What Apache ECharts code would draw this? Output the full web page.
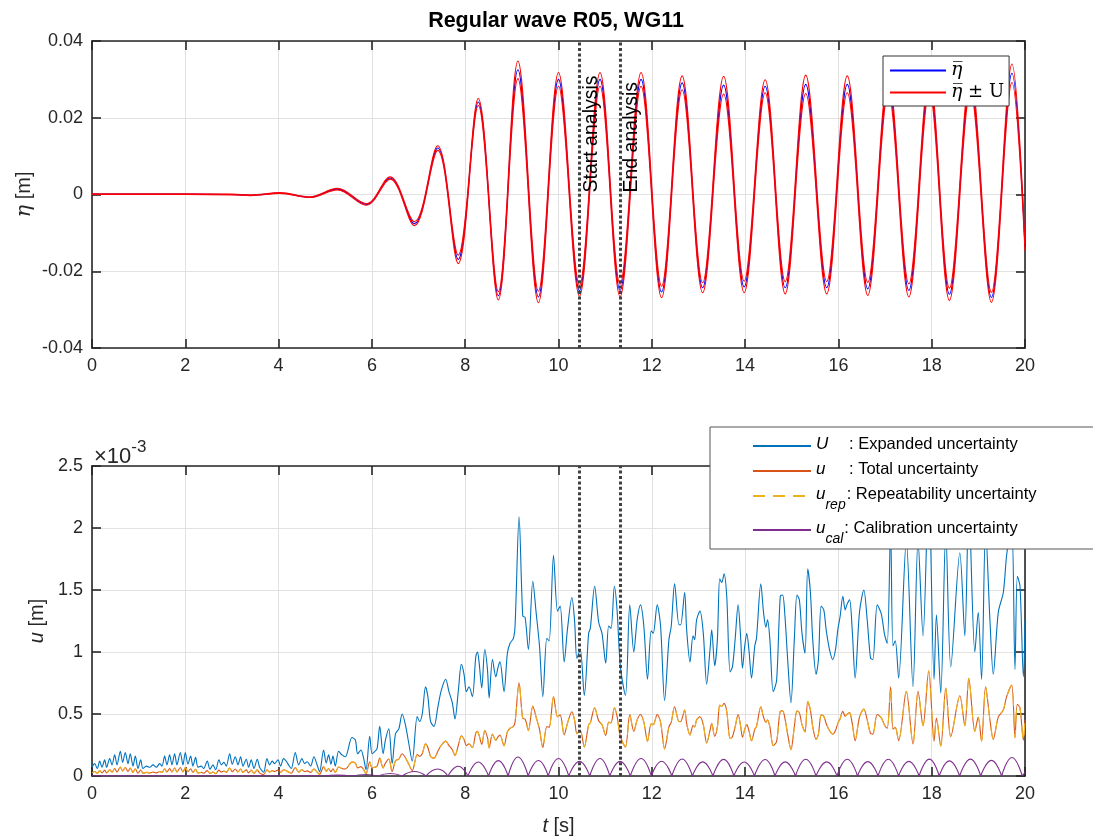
<!DOCTYPE html>
<html>
<head>
<meta charset="utf-8">
<title>Regular wave R05, WG11</title>
<script src="https://cdn.jsdelivr.net/npm/echarts@6/dist/echarts.min.js"></script>
<style>
  html, body { margin: 0; padding: 0; background: #ffffff; }
  #chart { width: 1093px; height: 838px; }
</style>
</head>
<body>
<div id="chart"></div>
<script>
// ---------------------------------------------------------------------------
// Surface elevation at WG11: crest / trough instants (s) and elevation (m)
// ---------------------------------------------------------------------------
const etaTime = [0, 1, 2, 3, 3.4, 4.03, 4.67, 5.26, 5.88, 6.39,
  6.91, 7.41, 7.85, 8.28, 8.71, 9.13, 9.57, 10.0, 10.45, 10.89,
  11.32, 11.77, 12.21, 12.65, 13.09, 13.54, 13.98, 14.43, 14.86, 15.30,
  15.75, 16.19, 16.63, 17.07, 17.51, 17.95, 18.38, 18.83, 19.28, 19.72,
  20.0];
const etaMean = [0.0001, 0.0001, 0.0001, 0.0000, -0.0002, 0.0004, -0.0007, 0.0014, -0.0026, 0.0043,
  -0.0076, 0.0121, -0.0169, 0.0241, -0.0264, 0.0325, -0.0267, 0.0300, -0.0251, 0.0300,
  -0.0250, 0.0300, -0.0254, 0.0291, -0.0243, 0.0285, -0.0241, 0.0282, -0.0243, 0.0287,
  -0.0243, 0.0287, -0.0246, 0.0288, -0.0250, 0.0290, -0.0260, 0.0290, -0.0268, 0.0316,
  -0.0137];
// expanded uncertainty U at the same instants (m)
const etaExpanded = [0.0001, 0.0001, 0.0001, 0.0001, 0.0001, 0.0001, 0.0001, 0.0002, 0.0002, 0.0003,
  0.0005, 0.0006, 0.0011, 0.0009, 0.0011, 0.0023, 0.0015, 0.0018, 0.0014, 0.0018,
  0.0016, 0.0018, 0.0015, 0.0018, 0.0013, 0.0023, 0.0015, 0.0017, 0.0016, 0.0024,
  0.0016, 0.0022, 0.0017, 0.0020, 0.0017, 0.0020, 0.0016, 0.0020, 0.0013, 0.0024,
  0.0010];

// ---------------------------------------------------------------------------
// Uncertainty time history, values in units of 1e-3 m
// ---------------------------------------------------------------------------
const uncTime = [
  0.00, 0.057, 0.114, 0.164, 0.214, 0.271, 0.314, 0.379, 0.429, 0.486,
  0.536, 0.607, 0.657, 0.714, 0.771, 0.821, 0.879, 0.929, 0.986, 1.043,
  1.093, 1.164, 1.236, 1.307, 1.379, 1.45, 1.50, 1.557, 1.607, 1.664,
  1.714, 1.771, 1.821, 1.893, 1.95, 2.00, 2.057, 2.114, 2.164, 2.221,
  2.271, 2.343, 2.393, 2.471, 2.529, 2.593, 2.65, 2.721, 2.771, 2.829,
  2.879, 2.95, 3.007, 3.071, 3.129, 3.186, 3.236, 3.307, 3.357, 3.414,
  3.471, 3.543, 3.593, 3.679, 3.75, 3.807, 3.864, 3.914, 3.986, 4.043,
  4.107, 4.164, 4.214, 4.271, 4.357, 4.429, 4.50, 4.557, 4.614, 4.686,
  4.757, 4.821, 4.879, 4.964, 5.021, 5.072, 5.122, 5.165, 5.215, 5.287,
  5.358, 5.43, 5.573, 5.645, 5.695, 5.767, 5.824, 5.874, 5.953, 6.004,
  6.054, 6.111, 6.168, 6.24, 6.29, 6.362, 6.434, 6.505, 6.577, 6.649,
  6.72, 6.792, 6.864, 6.971, 7.021, 7.079, 7.15, 7.2, 7.258, 7.33,
  7.416, 7.487, 7.581, 7.652, 7.724, 7.781, 7.853, 7.918, 7.975, 8.025,
  8.082, 8.154, 8.226, 8.262, 8.297, 8.355, 8.419, 8.477, 8.513, 8.584,
  8.656, 8.706, 8.746, 8.832, 8.904, 8.961, 9.033, 9.069, 9.155, 9.234,
  9.284, 9.355, 9.449, 9.520, 9.592, 9.664, 9.750, 9.800, 9.893, 9.979,
  10.036, 10.122, 10.194, 10.287, 10.345, 10.395, 10.466, 10.553, 10.646, 10.682,
  10.775, 10.861, 10.933, 11.012, 11.076, 11.126, 11.198, 11.255, 11.327, 11.435,
  11.528, 11.614, 11.686, 11.757, 11.829, 11.908, 11.987, 12.030, 12.116, 12.188,
  12.274, 12.367, 12.417, 12.489, 12.582, 12.618, 12.704, 12.747, 12.819, 12.883,
  12.919, 12.961, 13.033, 13.104, 13.176, 13.248, 13.284, 13.348, 13.406, 13.456,
  13.499, 13.549, 13.606, 13.678, 13.728, 13.786, 13.850, 13.907, 13.943, 13.993,
  14.036, 14.086, 14.137, 14.208, 14.244, 14.337, 14.395, 14.445, 14.481, 14.531,
  14.603, 14.675, 14.754, 14.804, 14.854, 14.912, 14.983, 15.055, 15.112, 15.163,
  15.220, 15.285, 15.342, 15.400, 15.450, 15.522, 15.572, 15.630, 15.687, 15.737,
  15.809, 15.880, 15.938, 15.988, 16.038, 16.095, 16.146, 16.181, 16.239, 16.296,
  16.359, 16.452, 16.545, 16.617, 16.689, 16.739, 16.832, 16.918, 16.990, 17.047,
  17.119, 17.169, 17.219, 17.291, 17.456, 17.599, 17.707, 17.814, 17.936, 18.051,
  18.101, 18.194, 18.302, 18.409, 18.603, 18.710, 18.796, 18.925, 18.997, 19.069,
  19.155, 19.248, 19.320, 19.427, 19.535, 19.606, 19.714, 19.785, 19.836, 19.893,
  19.965, 20.0];

// U : expanded uncertainty
const expandedU = [
  0.07, 0.10, 0.06, 0.12, 0.07, 0.13, 0.07, 0.14, 0.09, 0.17,
  0.09, 0.20, 0.11, 0.19, 0.10, 0.18, 0.08, 0.16, 0.06, 0.13,
  0.06, 0.08, 0.07, 0.09, 0.07, 0.10, 0.08, 0.16, 0.09, 0.17,
  0.09, 0.18, 0.09, 0.19, 0.09, 0.19, 0.095, 0.16, 0.08, 0.15,
  0.07, 0.08, 0.06, 0.12, 0.055, 0.09, 0.05, 0.13, 0.09, 0.11,
  0.08, 0.18, 0.095, 0.155, 0.09, 0.155, 0.08, 0.135, 0.07, 0.13,
  0.06, 0.135, 0.07, 0.03, 0.14, 0.09, 0.12, 0.10, 0.13, 0.08,
  0.14, 0.12, 0.09, 0.06, 0.19, 0.09, 0.14, 0.10, 0.115, 0.08,
  0.155, 0.095, 0.035, 0.21, 0.105, 0.17, 0.095, 0.16, 0.08, 0.20,
  0.17, 0.155, 0.31, 0.29, 0.18, 0.21, 0.14, 0.05, 0.32, 0.18,
  0.195, 0.22, 0.40, 0.18, 0.29, 0.38, 0.10, 0.34, 0.38, 0.50,
  0.41, 0.26, 0.12, 0.48, 0.44, 0.50, 0.72, 0.64, 0.44, 0.40,
  0.56, 0.69, 0.78, 0.68, 0.59, 0.46, 0.69, 0.90, 0.82, 0.68,
  0.72, 0.64, 0.96, 1.00, 0.92, 0.71, 1.02, 0.86, 0.63, 0.94,
  0.80, 0.88, 0.92, 0.68, 0.99, 1.07, 1.11, 1.21, 2.09, 1.29,
  1.28, 1.02, 1.57, 1.32, 1.05, 0.64, 1.11, 1.09, 1.78, 1.33,
  1.37, 0.92, 1.19, 1.44, 1.25, 0.95, 1.02, 0.65, 1.15, 1.19,
  1.53, 1.24, 1.15, 0.91, 1.21, 1.19, 1.53, 1.34, 0.88, 0.65,
  1.38, 1.00, 1.26, 1.38, 1.21, 0.78, 1.17, 1.15, 1.38, 1.21,
  0.61, 1.10, 1.21, 1.55, 1.22, 1.22, 1.48, 1.18, 0.92, 1.13,
  1.10, 1.26, 1.33, 1.15, 0.74, 1.02, 1.18, 0.89, 1.10, 1.59,
  1.56, 1.63, 1.45, 0.84, 0.88, 1.10, 1.38, 1.10, 0.87, 1.05,
  1.15, 1.00, 0.79, 1.05, 1.11, 1.55, 1.32, 1.20, 1.26, 1.10,
  0.68, 0.77, 1.45, 1.46, 1.29, 0.94, 0.59, 1.10, 1.46, 1.42,
  1.15, 0.99, 1.67, 1.48, 1.10, 0.82, 0.94, 1.37, 1.34, 1.18,
  1.02, 0.94, 1.02, 1.18, 1.29, 1.45, 1.34, 1.38, 1.42, 1.18,
  0.79, 1.32, 1.50, 1.26, 0.95, 0.94, 1.38, 1.31, 1.14, 1.07,
  2.00, 1.05, 1.09, 0.79, 1.90, 0.72, 1.90, 1.13, 2.36, 0.78,
  1.30, 0.67, 1.97, 0.88, 1.80, 1.13, 2.19, 1.00, 1.32, 0.78,
  2.00, 1.26, 0.82, 1.32, 1.48, 1.78, 2.04, 0.86, 1.61, 1.53,
  0.80, 1.26];

// u : total uncertainty
const totalU = [
  0.025, 0.036, 0.022, 0.043, 0.025, 0.047, 0.025, 0.050, 0.032, 0.061,
  0.032, 0.072, 0.040, 0.068, 0.036, 0.065, 0.029, 0.058, 0.022, 0.047,
  0.022, 0.029, 0.025, 0.032, 0.025, 0.036, 0.029, 0.058, 0.032, 0.061,
  0.032, 0.065, 0.032, 0.068, 0.032, 0.068, 0.034, 0.058, 0.029, 0.054,
  0.025, 0.029, 0.022, 0.043, 0.020, 0.032, 0.018, 0.047, 0.032, 0.040,
  0.029, 0.065, 0.034, 0.056, 0.032, 0.056, 0.029, 0.049, 0.025, 0.047,
  0.022, 0.049, 0.025, 0.011, 0.050, 0.032, 0.043, 0.036, 0.047, 0.029,
  0.050, 0.043, 0.032, 0.022, 0.068, 0.032, 0.050, 0.036, 0.041, 0.029,
  0.056, 0.034, 0.013, 0.076, 0.038, 0.061, 0.034, 0.058, 0.029, 0.072,
  0.061, 0.056, 0.112, 0.104, 0.065, 0.076, 0.050, 0.018, 0.115, 0.065,
  0.070, 0.079, 0.144, 0.065, 0.104, 0.137, 0.036, 0.122, 0.137, 0.180,
  0.147, 0.094, 0.043, 0.173, 0.158, 0.180, 0.259, 0.230, 0.158, 0.144,
  0.201, 0.248, 0.281, 0.245, 0.212, 0.165, 0.248, 0.324, 0.295, 0.245,
  0.259, 0.230, 0.345, 0.360, 0.331, 0.255, 0.367, 0.309, 0.227, 0.338,
  0.288, 0.317, 0.331, 0.245, 0.356, 0.385, 0.399, 0.435, 0.752, 0.464,
  0.460, 0.367, 0.565, 0.475, 0.378, 0.230, 0.399, 0.392, 0.640, 0.478,
  0.493, 0.331, 0.428, 0.518, 0.450, 0.342, 0.367, 0.234, 0.414, 0.428,
  0.550, 0.446, 0.414, 0.327, 0.435, 0.428, 0.550, 0.482, 0.317, 0.234,
  0.496, 0.360, 0.453, 0.496, 0.435, 0.281, 0.421, 0.414, 0.496, 0.435,
  0.219, 0.396, 0.435, 0.558, 0.439, 0.439, 0.532, 0.424, 0.331, 0.406,
  0.396, 0.453, 0.478, 0.414, 0.266, 0.367, 0.424, 0.320, 0.396, 0.572,
  0.561, 0.586, 0.522, 0.302, 0.317, 0.396, 0.496, 0.396, 0.313, 0.378,
  0.414, 0.360, 0.284, 0.378, 0.399, 0.558, 0.475, 0.432, 0.453, 0.396,
  0.245, 0.277, 0.522, 0.525, 0.464, 0.338, 0.212, 0.396, 0.525, 0.511,
  0.414, 0.356, 0.601, 0.532, 0.396, 0.295, 0.338, 0.493, 0.482, 0.424,
  0.367, 0.338, 0.367, 0.424, 0.464, 0.522, 0.482, 0.496, 0.511, 0.424,
  0.284, 0.475, 0.540, 0.453, 0.342, 0.338, 0.496, 0.471, 0.410, 0.385,
  0.719, 0.378, 0.392, 0.284, 0.683, 0.259, 0.683, 0.406, 0.849, 0.281,
  0.468, 0.241, 0.709, 0.317, 0.647, 0.406, 0.788, 0.360, 0.475, 0.281,
  0.719, 0.453, 0.295, 0.475, 0.532, 0.640, 0.734, 0.309, 0.579, 0.550,
  0.288, 0.453];

// u_rep : repeatability uncertainty
const repeatU = [
  0.025, 0.036, 0.022, 0.043, 0.025, 0.047, 0.025, 0.050, 0.032, 0.061,
  0.032, 0.072, 0.040, 0.068, 0.036, 0.065, 0.029, 0.058, 0.022, 0.047,
  0.022, 0.029, 0.025, 0.032, 0.025, 0.036, 0.029, 0.058, 0.032, 0.061,
  0.032, 0.065, 0.032, 0.068, 0.032, 0.068, 0.034, 0.058, 0.029, 0.054,
  0.025, 0.029, 0.022, 0.043, 0.020, 0.032, 0.018, 0.047, 0.032, 0.040,
  0.029, 0.065, 0.034, 0.056, 0.032, 0.056, 0.029, 0.049, 0.025, 0.047,
  0.022, 0.049, 0.025, 0.011, 0.050, 0.032, 0.043, 0.036, 0.047, 0.029,
  0.050, 0.043, 0.032, 0.022, 0.068, 0.032, 0.050, 0.036, 0.041, 0.029,
  0.056, 0.034, 0.013, 0.076, 0.038, 0.061, 0.034, 0.058, 0.029, 0.072,
  0.061, 0.056, 0.112, 0.104, 0.065, 0.076, 0.050, 0.018, 0.115, 0.065,
  0.070, 0.079, 0.143, 0.065, 0.104, 0.136, 0.036, 0.121, 0.136, 0.179,
  0.146, 0.093, 0.042, 0.172, 0.157, 0.179, 0.258, 0.229, 0.157, 0.143,
  0.200, 0.247, 0.280, 0.244, 0.211, 0.164, 0.247, 0.323, 0.294, 0.244,
  0.258, 0.229, 0.344, 0.359, 0.330, 0.254, 0.366, 0.308, 0.226, 0.337,
  0.287, 0.316, 0.330, 0.244, 0.355, 0.384, 0.398, 0.434, 0.751, 0.463,
  0.459, 0.366, 0.564, 0.474, 0.377, 0.229, 0.398, 0.391, 0.639, 0.477,
  0.492, 0.330, 0.427, 0.517, 0.449, 0.341, 0.366, 0.233, 0.413, 0.427,
  0.549, 0.445, 0.413, 0.326, 0.434, 0.427, 0.549, 0.481, 0.316, 0.233,
  0.495, 0.359, 0.452, 0.495, 0.434, 0.280, 0.420, 0.413, 0.495, 0.434,
  0.218, 0.395, 0.434, 0.557, 0.438, 0.438, 0.531, 0.423, 0.330, 0.405,
  0.395, 0.452, 0.477, 0.413, 0.265, 0.366, 0.423, 0.319, 0.395, 0.571,
  0.560, 0.585, 0.521, 0.301, 0.316, 0.395, 0.495, 0.395, 0.312, 0.377,
  0.413, 0.359, 0.283, 0.377, 0.398, 0.557, 0.474, 0.431, 0.452, 0.395,
  0.244, 0.276, 0.521, 0.524, 0.463, 0.337, 0.211, 0.395, 0.524, 0.510,
  0.413, 0.355, 0.600, 0.531, 0.395, 0.294, 0.337, 0.492, 0.481, 0.423,
  0.366, 0.337, 0.366, 0.423, 0.463, 0.521, 0.481, 0.495, 0.510, 0.423,
  0.283, 0.474, 0.539, 0.452, 0.341, 0.337, 0.495, 0.470, 0.409, 0.384,
  0.718, 0.377, 0.391, 0.283, 0.682, 0.258, 0.682, 0.405, 0.848, 0.280,
  0.467, 0.240, 0.708, 0.316, 0.646, 0.405, 0.787, 0.359, 0.474, 0.280,
  0.718, 0.452, 0.294, 0.474, 0.531, 0.639, 0.733, 0.308, 0.578, 0.549,
  0.287, 0.452];

// u_cal : calibration uncertainty, one arch per half wave (1e-3 m)
const calZeroTime = [3.72, 4.35, 4.97, 5.57, 6.13, 6.65, 7.16, 7.63, 8.06, 8.50,
  8.92, 9.35, 9.78, 10.22, 10.67, 11.10, 11.54, 11.99, 12.43, 12.87,
  13.31, 13.76, 14.20, 14.64, 15.08, 15.52, 15.97, 16.41, 16.85, 17.29,
  17.73, 18.16, 18.60, 19.05, 19.50, 19.94];
const calCrestTime = [4.03, 4.67, 5.26, 5.88, 6.39, 6.91, 7.41, 7.85, 8.28, 8.71,
  9.13, 9.57, 10.0, 10.45, 10.89, 11.32, 11.77, 12.21, 12.65, 13.09,
  13.54, 13.98, 14.43, 14.86, 15.30, 15.75, 16.19, 16.63, 17.07, 17.51,
  17.95, 18.38, 18.83, 19.28, 19.72];
const calCrest = [0.002, 0.003, 0.007, 0.012, 0.020, 0.036, 0.057, 0.079, 0.113, 0.124,
  0.153, 0.125, 0.141, 0.118, 0.141, 0.118, 0.141, 0.119, 0.137, 0.114,
  0.134, 0.113, 0.133, 0.114, 0.135, 0.114, 0.135, 0.116, 0.135, 0.118,
  0.136, 0.122, 0.136, 0.126, 0.149];
const calLead = [[0, 0.001], [3.72, 0.001]];
const calTail = [[19.94, 0], [20.0, 0.03]];

// analysis window
const analysisStart = 10.45;
const analysisEnd = 11.32;

// ---------------------------------------------------------------------------
// Chart
// ---------------------------------------------------------------------------
const AX = '#262626';
const GRIDC = '#e2e2e2';
const SANS = '"Liberation Sans", Arial, Helvetica, sans-serif';
const SERIF = '"DejaVu Serif", "Liberation Serif", serif';
const GRID_LEFT = 92, GRID_RIGHT = 68;

const pairs = (xs, ys) => xs.map((x, i) => [x, ys[i]]);
const etaMeanData = pairs(etaTime, etaMean);
const etaUpperData = etaTime.map((t, i) => [t, etaMean[i] + etaExpanded[i]]);
const etaLowerData = etaTime.map((t, i) => [t, etaMean[i] - etaExpanded[i]]);

const calData = [...calLead, [calZeroTime[0], '-']];
calCrestTime.forEach((t, i) => {
  calData.push([calZeroTime[i], 0], [t, calCrest[i]], [calZeroTime[i + 1], 0], [calZeroTime[i + 1], '-']);
});
calData.push(...calTail);

function xAxisFor(gridIndex, top, extra) {
  return Object.assign({
    type: 'value', gridIndex, min: 0, max: 20, interval: 2,
    position: top ? 'top' : 'bottom',
    axisLine: { show: true, onZero: false, lineStyle: { color: AX, width: 1.6 } },
    axisTick: { show: true, inside: true, length: 9, lineStyle: { color: AX, width: 1.6 } },
    axisLabel: { show: !top, color: AX, fontSize: 18, fontFamily: SANS, margin: 9 },
    splitLine: { show: !top, lineStyle: { color: GRIDC, width: 1 } }
  }, extra || {});
}
function yAxisFor(gridIndex, right, range, extra) {
  return Object.assign({
    type: 'value', gridIndex, min: range[0], max: range[1], interval: range[2],
    position: right ? 'right' : 'left',
    axisLine: { show: true, onZero: false, lineStyle: { color: AX, width: 1.6 } },
    axisTick: { show: true, inside: true, length: 9, lineStyle: { color: AX, width: 1.6 } },
    axisLabel: { show: !right, color: AX, fontSize: 18, fontFamily: SANS, margin: 9 },
    splitLine: { show: !right, lineStyle: { color: GRIDC, width: 1 } }
  }, extra || {});
}

const dotted = { color: '#404040', width: 3, type: [3, 2.4], cap: 'butt' };
function windowLines(withLabels) {
  const data = [{ xAxis: analysisStart }, { xAxis: analysisEnd }];
  if (withLabels) {
    [[analysisStart, 'Start analysis'], [analysisEnd, 'End analysis']].forEach(([t, txt]) => {
      data.push([
        { coord: [t, 0], lineStyle: { width: 0, color: 'rgba(0,0,0,0)' },
          label: { show: true, formatter: txt, position: 'insideStartBottom', distance: 2,
                   color: '#000', fontSize: 19.5, fontFamily: SANS } },
        { coord: [t, 0.04] }
      ]);
    });
  }
  return { silent: true, symbol: 'none', animation: false, lineStyle: dotted,
           label: { show: false }, data };
}

const lineSeries = (name, xi, yi, data, color, extra) => Object.assign({
  name, type: 'line', xAxisIndex: xi, yAxisIndex: yi, data,
  showSymbol: false, symbol: 'none', animation: false, clip: true,
  lineStyle: { color, width: 1.1 }, itemStyle: { color }
}, extra || {});

const legendNames = {
  mean: '{e|η\u0305}',
  band: '{e|η\u0305}{r| ± U}',
  U: '{sym|U}{n|: Expanded uncertainty}',
  u: '{sym|u}{n|: Total uncertainty}',
  urep: '{i|u}{sub|rep}{n|: Repeatability uncertainty}',
  ucal: '{i|u}{sub|cal}{n|: Calibration uncertainty}'
};

const option = {
  backgroundColor: '#ffffff',
  animation: false,
  title: {
    text: 'Regular wave R05, WG11',
    left: 551, textAlign: 'center', top: 5,
    textStyle: { fontSize: 21.5, fontWeight: 'bold', color: '#000', fontFamily: SANS }
  },
  grid: [
    { left: GRID_LEFT, right: GRID_RIGHT, top: 41, height: 307, outerBoundsMode: 'none' },
    { left: GRID_LEFT, right: GRID_RIGHT, top: 466, height: 310, outerBoundsMode: 'none' }
  ],
  xAxis: [
    xAxisFor(0, false),
    xAxisFor(0, true),
    xAxisFor(1, false, {
      name: '{i|t} [s]', nameLocation: 'middle', nameGap: 40, nameMoveOverlap: false,
      nameTextStyle: { fontSize: 20, color: AX, fontFamily: SANS,
        rich: { i: { fontStyle: 'italic', fontSize: 20, fontFamily: SANS, color: AX } } }
    }),
    xAxisFor(1, true)
  ],
  yAxis: [
    yAxisFor(0, false, [-0.04, 0.04, 0.02], {
      axisLabel: { show: true, color: AX, fontSize: 18, fontFamily: SANS, margin: 9,
                   formatter: v => (Math.abs(v) < 1e-9 ? '0' : v.toFixed(2)) },
      name: '{i|η} [m]', nameLocation: 'middle', nameGap: 57, nameMoveOverlap: false,
      nameTextStyle: { fontSize: 20, color: AX, fontFamily: SANS,
        rich: { i: { fontStyle: 'italic', fontSize: 21, fontFamily: SERIF, color: AX } } }
    }),
    yAxisFor(0, true, [-0.04, 0.04, 0.02]),
    yAxisFor(1, false, [0, 2.5, 0.5], {
      name: '{i|u} [m]', nameLocation: 'middle', nameGap: 45, nameMoveOverlap: false,
      nameTextStyle: { fontSize: 20, color: AX, fontFamily: SANS,
        rich: { i: { fontStyle: 'italic', fontSize: 20, fontFamily: SANS, color: AX } } }
    }),
    yAxisFor(1, true, [0, 2.5, 0.5])
  ],
  legend: [
    {
      data: ['mean', 'band'], orient: 'vertical', left: 883, top: 56,
      padding: [5, 5, 4, 6], itemGap: 3, itemWidth: 56, itemHeight: 14,
      backgroundColor: '#ffffff', borderColor: '#333', borderWidth: 1, borderRadius: 0,
      itemStyle: { opacity: 0 },
      selectedMode: false, formatter: n => legendNames[n],
      textStyle: { fontSize: 18, color: '#000', fontFamily: SERIF,
        rich: { e: { fontStyle: 'italic', fontSize: 19, fontFamily: SERIF, color: '#000' },
                r: { fontSize: 18, fontFamily: SERIF, color: '#000' } } }
    },
    {
      data: ['U', 'u', 'urep', 'ucal'], orient: 'vertical', left: 710, top: 427,
      padding: [9, 60, 3, 42], itemGap: 8, itemWidth: 58, itemHeight: 14,
      backgroundColor: '#ffffff', borderColor: '#555', borderWidth: 1, borderRadius: 0,
      itemStyle: { opacity: 0 },
      selectedMode: false, formatter: n => legendNames[n],
      textStyle: { fontSize: 16.5, color: '#000', fontFamily: SANS,
        rich: {
          sym: { fontStyle: 'italic', fontSize: 17, width: 33, lineHeight: 20, verticalAlign: 'top',
                 fontFamily: SANS, color: '#000' },
          i: { fontStyle: 'italic', fontSize: 17, lineHeight: 20, verticalAlign: 'top',
               fontFamily: SANS, color: '#000' },
          sub: { fontStyle: 'italic', fontSize: 14, fontFamily: SANS, color: '#000',
                 lineHeight: 16, padding: [12, 1, 0, 0], verticalAlign: 'top' },
          n: { fontSize: 16.5, lineHeight: 20, verticalAlign: 'top', fontFamily: SANS, color: '#000' }
        } }
    }
  ],
  graphic: [{
    type: 'text', left: GRID_LEFT + 2, top: 439, silent: true,
    style: { text: '{b|×10}{s|-3}', fill: AX,
      rich: { b: { fontSize: 22, fontFamily: SANS, fill: AX, padding: [7, 0, 0, 0] },
              s: { fontSize: 17, fontFamily: SANS, fill: AX, verticalAlign: 'top' } } }
  }],
  series: [
    lineSeries('mean', 0, 0, etaMeanData, '#0000ff', { smooth: 0.36, z: 2, markLine: windowLines(true) }),
    lineSeries('band', 0, 0, etaUpperData, '#ff0000', { smooth: 0.36, z: 3 }),
    lineSeries('band', 0, 0, etaLowerData, '#ff0000', { smooth: 0.36, z: 3 }),
    lineSeries('U', 2, 2, pairs(uncTime, expandedU), '#0072BD', { smooth: 0.3, z: 2, markLine: windowLines(false) }),
    lineSeries('u', 2, 2, pairs(uncTime, totalU), '#D95319', { smooth: 0.3, z: 3 }),
    lineSeries('urep', 2, 2, pairs(uncTime, repeatU), '#EDB120',
      { smooth: 0.3, z: 3, lineStyle: { color: '#EDB120', width: 1.1, type: [12, 8] } }),
    lineSeries('ucal', 2, 2, calData, '#7E2F8E', { smooth: 0.5, z: 3, connectNulls: false })
  ]
};

const chart = echarts.init(document.getElementById('chart'), null, { renderer: 'canvas' });
chart.setOption(option);
</script>
</body>
</html>
